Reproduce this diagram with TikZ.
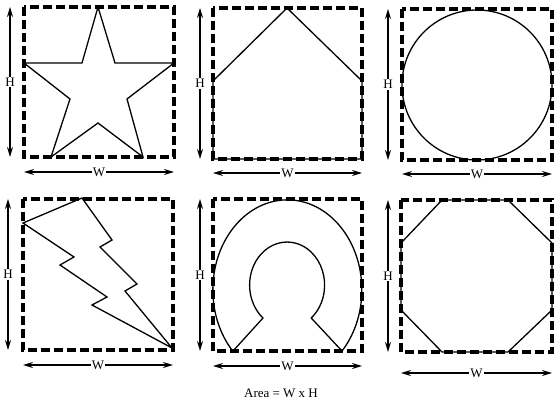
\documentclass[tikz,border=0pt]{standalone}
\usepackage{fontspec}
\setmainfont{Liberation Serif}
\usetikzlibrary{arrows.meta}
\tikzset{
  cadru/.style    = {draw, line width=3.2pt, dash pattern=on 9pt off 4pt},
  contur/.style   = {draw, line width=1.3pt, line join=miter},
  cota/.style     = {{Stealth[length=10pt,width=6pt]}-{Stealth[length=10pt,width=6pt]}, line width=1.5pt},
  eticheta/.style = {fill=white, inner sep=1pt, font=\fontsize{13}{14}\selectfont}
}

\begin{document}
\begin{tikzpicture}[x=1pt, y=-1pt]
  \useasboundingbox (0,0) rectangle (554,406);

  % steaua
  \draw[contur] (98,7) -- (115,63) -- (174,63) -- (127,99) -- (143,157) -- (98,123)
      -- (51,157) -- (70,99) -- (24,63) -- (82,63) -- cycle;
  % casa
  \draw[contur] (213,159) -- (213,81) -- (287,8) -- (362,81) -- (362,159) -- cycle;
  % cercul
  \draw[contur] (477,85) circle[radius=75];
  % fulgerul
  \draw[contur] (82,198) -- (112,240) -- (100,247) -- (137,284) -- (125,291) -- (172,348)
      -- (92,305) -- (107,297) -- (60,265) -- (74,257) -- (23,223) -- cycle;
  % potcoava
  \draw[contur] (233,351) -- (263,318)
      arc[start angle=130, end angle=410, x radius=37.5, y radius=43] -- (342,351)
      arc[start angle=42.8, end angle=-222.8, x radius=74.5, y radius=90] -- cycle;
  % octogonul
  \draw[contur] (442,200) -- (508,200) -- (552,243) -- (552,310) -- (508,352)
      -- (442,352) -- (401,310) -- (401,243) -- cycle;

  % cadre si cote
  \foreach \n/\l/\t/\r/\b/\hx/\wy in {1/24/7/174/157/10/172, 2/213/8/362/159/200/173,
      3/402/9/552/160/388/174, 4/23/199/173/350/8/365,
      5/213/199/362/351/200/366, 6/401/200/552/352/388/373}{
    \coordinate (ss\n) at (\l,\t);
    \coordinate (dj\n) at (\r,\b);
    \coordinate (hs\n) at (\hx,\t);
    \coordinate (hj\n) at (\hx,\b);
    \coordinate (ws\n) at (\l,\wy);
    \coordinate (wd\n) at (\r,\wy);
    \draw[cadru] (ss\n) rectangle (dj\n);
    \draw[cota] (hs\n) -- node[eticheta] {H} (hj\n);
    \draw[cota] (ws\n) -- node[eticheta] {W} (wd\n);
  }

  \node[font=\fontsize{13}{15}\selectfont] (arie) at (281,393) {Area = W x H};
\end{tikzpicture}
\end{document}
